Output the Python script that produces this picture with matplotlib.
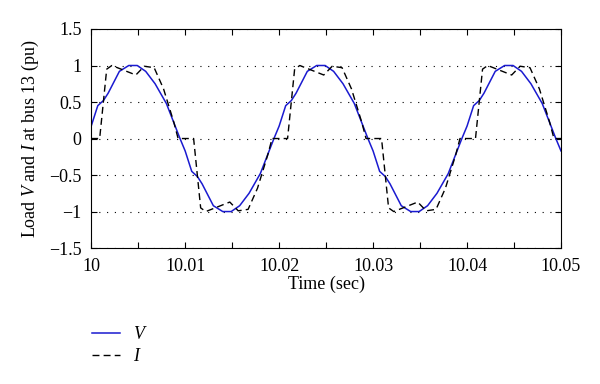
import matplotlib
matplotlib.use("Agg")
import matplotlib.pyplot as plt
from matplotlib.ticker import MultipleLocator

plt.rcParams['font.family'] = 'Liberation Serif'
plt.rcParams['mathtext.fontset'] = 'custom'
plt.rcParams['mathtext.rm'] = 'Liberation Serif'
plt.rcParams['mathtext.it'] = 'Liberation Serif:italic'

# load voltage V (pu)
t_v = [10.00000, 10.00070, 10.00130, 10.00180, 10.00300, 10.00400, 10.00490, 10.00580,
       10.00680, 10.00800, 10.00945, 10.01000, 10.01070, 10.01130, 10.01180, 10.01300,
       10.01400, 10.01490, 10.01580, 10.01680, 10.01800, 10.01945,
       10.02000, 10.02070, 10.02130, 10.02180, 10.02300, 10.02400, 10.02490, 10.02580,
       10.02680, 10.02800, 10.02945, 10.03000, 10.03070, 10.03130, 10.03180, 10.03300,
       10.03400, 10.03490, 10.03580, 10.03680, 10.03800, 10.03945,
       10.04000, 10.04070, 10.04130, 10.04180, 10.04300, 10.04400, 10.04490, 10.04580,
       10.04680, 10.04800, 10.04945, 10.05000]
v = [0.17, 0.45, 0.52, 0.62, 0.92, 1.0, 1.0, 0.92, 0.75, 0.48, 0.0,
     -0.17, -0.45, -0.52, -0.62, -0.92, -1.0, -1.0, -0.92, -0.75, -0.48, 0.0,
     0.17, 0.45, 0.52, 0.62, 0.92, 1.0, 1.0, 0.92, 0.75, 0.48, 0.0,
     -0.17, -0.45, -0.52, -0.62, -0.92, -1.0, -1.0, -0.92, -0.75, -0.48, 0.0,
     0.17, 0.45, 0.52, 0.62, 0.92, 1.0, 1.0, 0.92, 0.75, 0.48, 0.0, -0.17]

# load current I (pu)
t_i = [10.00000, 10.00090, 10.00165, 10.00220, 10.00475, 10.00565, 10.00670, 10.00770,
       10.00880, 10.00925, 10.01090, 10.01165, 10.01220, 10.01475, 10.01565, 10.01670,
       10.01770, 10.01880, 10.01925,
       10.02090, 10.02165, 10.02220, 10.02475, 10.02565, 10.02670, 10.02770,
       10.02880, 10.02925, 10.03090, 10.03165, 10.03220, 10.03475, 10.03565, 10.03670,
       10.03770, 10.03880, 10.03925,
       10.04090, 10.04165, 10.04220, 10.04475, 10.04565, 10.04670, 10.04770,
       10.04880, 10.04925, 10.05000]
i_load = [0.0, 0.0, 0.95, 1.0, 0.87, 0.99, 0.97, 0.68, 0.22, 0.0,
          0.0, -0.95, -1.0, -0.87, -0.99, -0.97, -0.68, -0.22, 0.0,
          0.0, 0.95, 1.0, 0.87, 0.99, 0.97, 0.68, 0.22, 0.0,
          0.0, -0.95, -1.0, -0.87, -0.99, -0.97, -0.68, -0.22, 0.0,
          0.0, 0.95, 1.0, 0.87, 0.99, 0.97, 0.68, 0.22, 0.0, 0.0]

xticks = [10.0, 10.01, 10.02, 10.03, 10.04, 10.05]
xticklabels = ['10', '10.01', '10.02', '10.03', '10.04', '10.05']
yticks = [-1.5, -1.0, -0.5, 0.0, 0.5, 1.0, 1.5]
yticklabels = ['\u22121.5', '\u22121', '\u22120.5', '0', '0.5', '1', '1.5']

fig = plt.figure(figsize=(6, 3.84), dpi=100)
ax = fig.add_axes([0.152, 0.354, 0.783, 0.5705])

ax.plot(t_v, v, color='#1a1ad0', lw=1.1, label='$V$')
ax.plot(t_i, i_load, color='k', lw=1.0, linestyle=(0, (5, 3)), label='$I$')

ax.set_xlim(10.0, 10.05)
ax.set_ylim(-1.5, 1.5)
ax.set_xticks(xticks)
ax.set_xticklabels(xticklabels)
ax.xaxis.set_minor_locator(MultipleLocator(0.005))
ax.set_yticks(yticks)
ax.set_yticklabels(yticklabels)
ax.tick_params(which='both', direction='in', top=True, right=True, labelsize=13, length=4, width=0.8)
ax.tick_params(axis='x', pad=7)
ax.tick_params(axis='y', pad=7)
ax.yaxis.grid(True, linestyle=(0, (1, 6)), color='k', lw=0.8)
for s in ax.spines.values():
    s.set_linewidth(0.8)

ax.set_xlabel('Time (sec)', fontsize=13, labelpad=1)
ax.set_ylabel('Load $V$ and $I$ at bus 13 (pu)', fontsize=13, labelpad=6)

fig.legend(loc='upper left', bbox_to_anchor=(0.139, 0.175), frameon=False, fontsize=13,
           handlelength=1.55, handletextpad=0.7, borderpad=0, labelspacing=0.3)

fig.savefig('out.png', dpi=100)
